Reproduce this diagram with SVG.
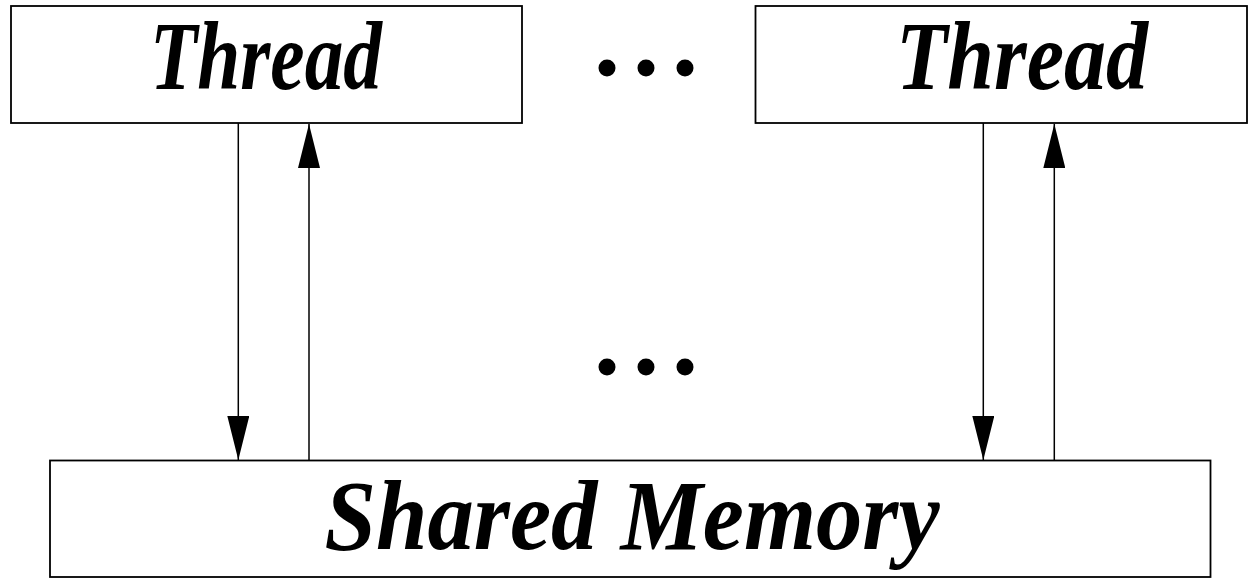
<svg xmlns="http://www.w3.org/2000/svg" width="1254" height="578" viewBox="0 0 1254 578">
<style>
.box{fill:#fff;stroke:#000;stroke-width:1.8}
.lbl{font-family:"Liberation Serif","DejaVu Serif",serif;font-weight:bold;font-style:italic;fill:#000}
.ln{stroke:#000;stroke-width:1.5;fill:none}
.dot{fill:#000}
</style>
<defs>
<marker id="ah" viewBox="0 0 44 22" refX="44" refY="11" markerWidth="44" markerHeight="22" markerUnits="userSpaceOnUse" orient="auto">
<path d="M0,0 L44,11 L0,22 Z" fill="#000"/>
</marker>
</defs>
<g id="thread1">
<rect class="box" x="11" y="6" width="511" height="117"/>
<text class="lbl" x="266" y="89" font-size="98" text-anchor="middle" textLength="232" lengthAdjust="spacingAndGlyphs">Thread</text>
</g>
<g id="thread2">
<rect class="box" x="755.5" y="6" width="491.5" height="117"/>
<text class="lbl" x="1022" y="89" font-size="98" text-anchor="middle" textLength="252" lengthAdjust="spacingAndGlyphs">Thread</text>
</g>
<g id="memory">
<rect class="box" x="50" y="460.5" width="1160.5" height="116.5"/>
<text class="lbl" x="632" y="549" font-size="100" text-anchor="middle" textLength="615" lengthAdjust="spacingAndGlyphs">Shared Memory</text>
</g>
<g id="dots-top">
<circle class="dot" cx="607" cy="68" r="8.5"/>
<circle class="dot" cx="646" cy="68" r="8.5"/>
<circle class="dot" cx="685" cy="68" r="8.5"/>
</g>
<g id="dots-mid">
<circle class="dot" cx="607" cy="367" r="8.5"/>
<circle class="dot" cx="646" cy="367" r="8.5"/>
<circle class="dot" cx="685" cy="367" r="8.5"/>
</g>
<g id="connectors">
<line class="ln" x1="238.3" y1="123" x2="238.3" y2="460" marker-end="url(#ah)"/>
<line class="ln" x1="309" y1="460" x2="309" y2="124" marker-end="url(#ah)"/>
<line class="ln" x1="983.3" y1="123" x2="983.3" y2="460" marker-end="url(#ah)"/>
<line class="ln" x1="1054.3" y1="460" x2="1054.3" y2="124" marker-end="url(#ah)"/>
</g>
</svg>
